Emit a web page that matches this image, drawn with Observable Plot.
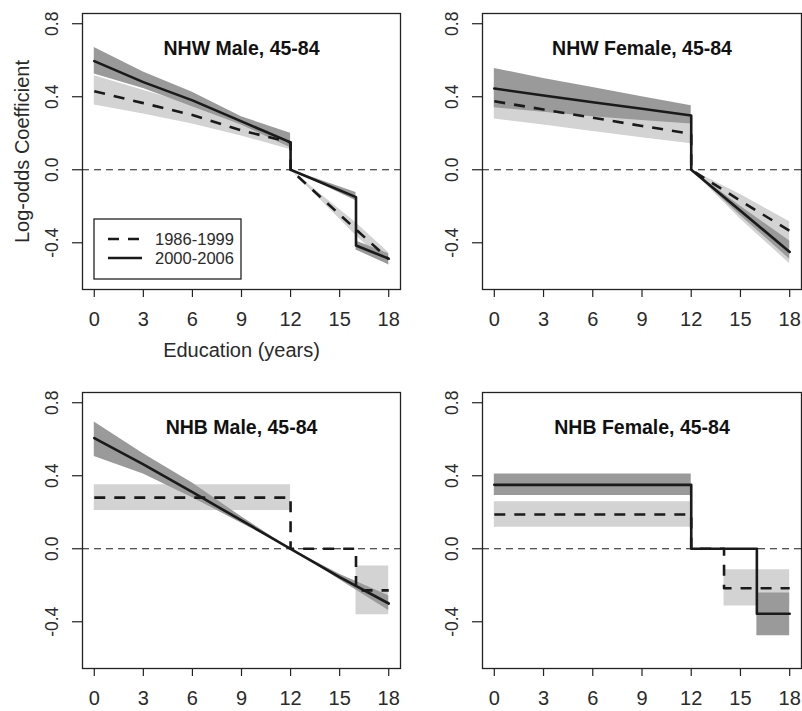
<!DOCTYPE html>
<html><head><meta charset="utf-8">
<script src="https://cdn.jsdelivr.net/npm/d3@7"></script>
<script src="https://cdn.jsdelivr.net/npm/@observablehq/plot@0.6"></script>
<style>
body{margin:0;background:#fff;}
#wrap{position:relative;width:802px;height:711px;font-family:"Liberation Sans",Arial,sans-serif;color:#222;}
#wrap > svg{position:absolute;}
</style></head><body><div id="wrap"></div>
<script>
// ---- axes / labels ----
const xTicks = [0, 3, 6, 9, 12, 15, 18];
const yTicks = [-0.4, 0, 0.4, 0.8];
const yTickLabels = ["-0.4", "0.0", "0.4", "0.8"];
const periods = ["1986-1999", "2000-2006"];
const panelTitles = ["NHW Male, 45-84", "NHW Female, 45-84", "NHB Male, 45-84", "NHB Female, 45-84"];
const xLabel = "Education (years)";
const yLabel = "Log-odds Coefficient";

// ---- NHW Male ----
const nhwM_early_x   = [0, 3, 6, 9, 12, 12, 16, 18];
const nhwM_early_est = [0.43, 0.365, 0.30, 0.215, 0.15, 0, -0.327, -0.49];
const nhwM_early_lo  = [0.355, 0.305, 0.25, 0.185, 0.11, 0, -0.36, -0.525];
const nhwM_early_hi  = [0.515, 0.435, 0.355, 0.26, 0.18, 0, -0.29, -0.455];
const nhwM_late_x    = [0, 3, 6, 9, 12, 12, 16, 16, 18];
const nhwM_late_est  = [0.595, 0.48, 0.38, 0.265, 0.15, 0, -0.15, -0.415, -0.487];
const nhwM_late_lo   = [0.525, 0.445, 0.345, 0.245, 0.12, 0, -0.17, -0.44, -0.52];
const nhwM_late_hi   = [0.67, 0.535, 0.425, 0.29, 0.2, 0, -0.125, -0.39, -0.46];

// ---- NHW Female ----
const nhwF_early_x   = [0, 3, 6, 9, 12, 12, 15, 18];
const nhwF_early_est = [0.375, 0.33, 0.285, 0.24, 0.197, 0, -0.17, -0.335];
const nhwF_early_lo  = [0.278, 0.245, 0.21, 0.175, 0.142, 0, -0.27, -0.515];
const nhwF_early_hi  = [0.47, 0.42, 0.36, 0.31, 0.25, 0, -0.135, -0.285];
const nhwF_late_x    = [0, 3, 6, 9, 12, 12, 15, 18];
const nhwF_late_est  = [0.445, 0.407, 0.37, 0.334, 0.297, 0, -0.225, -0.45];
const nhwF_late_lo   = [0.34, 0.315, 0.29, 0.27, 0.25, 0, -0.25, -0.49];
const nhwF_late_hi   = [0.555, 0.5, 0.45, 0.40, 0.35, 0, -0.2, -0.39];

// ---- NHB Male ----
const nhbM_early_x   = [0, 12, 12, 16, 16, 18];
const nhbM_early_est = [0.28, 0.28, 0, 0, -0.228, -0.228];
const nhbM_early_lo  = [0.21, 0.21, 0, 0, -0.362, -0.362];
const nhbM_early_hi  = [0.35, 0.35, 0, 0, -0.095, -0.095];
const nhbM_late_x    = [0, 3, 6, 9, 12, 15, 18];
const nhbM_late_est  = [0.606, 0.462, 0.31, 0.155, 0, -0.155, -0.30];
const nhbM_late_lo   = [0.506, 0.41, 0.28, 0.14, 0, -0.17, -0.338];
const nhbM_late_hi   = [0.694, 0.52, 0.36, 0.175, 0, -0.14, -0.258];

// ---- NHB Female ----
const nhbF_early_x   = [0, 12, 12, 14, 14, 18];
const nhbF_early_est = [0.188, 0.188, 0, 0, -0.216, -0.216];
const nhbF_early_lo  = [0.118, 0.118, 0, 0, -0.314, -0.314];
const nhbF_early_hi  = [0.257, 0.257, 0, 0, -0.115, -0.115];
const nhbF_late_x    = [0, 12, 12, 16, 16, 18];
const nhbF_late_est  = [0.35, 0.35, 0, 0, -0.356, -0.356];
const nhbF_late_lo   = [0.292, 0.292, 0, 0, -0.477, -0.477];
const nhbF_late_hi   = [0.41, 0.41, 0, 0, -0.243, -0.243];

const rows = (x, est, lo, hi) => x.map((v, i) => ({x: v, est: est[i], lo: lo[i], hi: hi[i]}));

const panels = [
  {title: panelTitles[0], early: rows(nhwM_early_x, nhwM_early_est, nhwM_early_lo, nhwM_early_hi),
   late: rows(nhwM_late_x, nhwM_late_est, nhwM_late_lo, nhwM_late_hi), left: 0, top: 0, w: 401, h: 360, mt: 13, mb: 71, first: true},
  {title: panelTitles[1], early: rows(nhwF_early_x, nhwF_early_est, nhwF_early_lo, nhwF_early_hi),
   late: rows(nhwF_late_x, nhwF_late_est, nhwF_late_lo, nhwF_late_hi), left: 400, top: 0, w: 402, h: 360, mt: 13, mb: 71},
  {title: panelTitles[2], early: rows(nhbM_early_x, nhbM_early_est, nhbM_early_lo, nhbM_early_hi),
   late: rows(nhbM_late_x, nhbM_late_est, nhbM_late_lo, nhbM_late_hi), left: 0, top: 360, w: 401, h: 351, mt: 32, mb: 43},
  {title: panelTitles[3], early: rows(nhbF_early_x, nhbF_early_est, nhbF_early_lo, nhbF_early_hi),
   late: rows(nhbF_late_x, nhbF_late_est, nhbF_late_lo, nhbF_late_hi), left: 400, top: 360, w: 402, h: 351, mt: 32, mb: 43}
];

const LIGHT = "#d3d3d3", DARK = "#9a9a9a", INK = "#1a1a1a";
const wrap = document.getElementById("wrap");

for (const p of panels) {
  const marks = [
    Plot.areaY(p.early, {x: "x", y1: "lo", y2: "hi", fill: LIGHT}),
    Plot.areaY(p.late, {x: "x", y1: "lo", y2: "hi", fill: DARK}),
    Plot.ruleY([0], {stroke: INK, strokeWidth: 1, strokeDasharray: "7,5"}),
    Plot.line(p.early, {x: "x", y: "est", stroke: INK, strokeWidth: 2.6, strokeDasharray: "11,9", strokeLinecap: "butt"}),
    Plot.line(p.late, {x: "x", y: "est", stroke: INK, strokeWidth: 2.6}),
    Plot.frame({stroke: "#222", strokeWidth: 1.3}),
    Plot.axisX(xTicks, {tickSize: 8, tickPadding: 14, fontSize: 20, label: null, strokeWidth: 1.2, fill: "#2a2a2a"}),
    Plot.axisY(yTicks, {tickSize: 10, tickFormat: () => "", label: null, strokeWidth: 1.2}),
    Plot.text(yTicks, {y: d => d, text: (d, i) => yTickLabels[i], frameAnchor: "left", dx: -30,
      rotate: -90, textAnchor: "middle", lineAnchor: "middle", fontSize: 17.5, fill: "#2a2a2a"}),
    Plot.text([p.title], {text: d => d, frameAnchor: "top", dy: 35, lineAnchor: "middle",
      fontSize: 19.5, fontWeight: "bold", fill: "#111"})
  ];
  if (p.first) {
    marks.push(Plot.text([xLabel], {text: d => d, frameAnchor: "bottom", dy: 61, lineAnchor: "middle", fontSize: 20, fill: "#2a2a2a"}));
    marks.push(Plot.text([yLabel], {text: d => d, frameAnchor: "left", dx: -60, rotate: -90,
      textAnchor: "middle", lineAnchor: "middle", fontSize: 20, fill: "#2a2a2a"}));
  }
  const svg = Plot.plot({
    width: p.w, height: p.h,
    marginLeft: 82, marginRight: 1, marginTop: p.mt, marginBottom: p.mb,
    style: {background: "none", fontFamily: "'Liberation Sans', Arial, sans-serif", color: "#222", overflow: "visible"},
    x: {domain: [-0.72, 18.72]},
    y: {domain: [-0.656, 0.856]},
    marks
  });
  svg.style.left = p.left + "px";
  svg.style.top = p.top + "px";
  wrap.appendChild(svg);
}

// ---- legend (top-left panel) ----
const lg = d3.select(wrap).append("svg")
  .attr("width", 150).attr("height", 63)
  .style("left", "93px").style("top", "218px");
lg.append("rect").attr("x", 1).attr("y", 1).attr("width", 147).attr("height", 60)
  .attr("fill", "white").attr("stroke", "#222").attr("stroke-width", 1.3);
const legendRows = [{label: periods[0], dash: "11,9"}, {label: periods[1], dash: null}];
legendRows.forEach((r, i) => {
  const y = 21 + i * 19;
  lg.append("line").attr("x1", 15).attr("x2", 49).attr("y1", y).attr("y2", y)
    .attr("stroke", INK).attr("stroke-width", 2.6).attr("stroke-dasharray", r.dash);
  lg.append("text").attr("x", 62).attr("y", y).attr("dy", "0.35em")
    .attr("font-size", 16.5).attr("fill", "#2a2a2a")
    .attr("font-family", "'Liberation Sans', Arial, sans-serif").text(r.label);
});
</script></body></html>
